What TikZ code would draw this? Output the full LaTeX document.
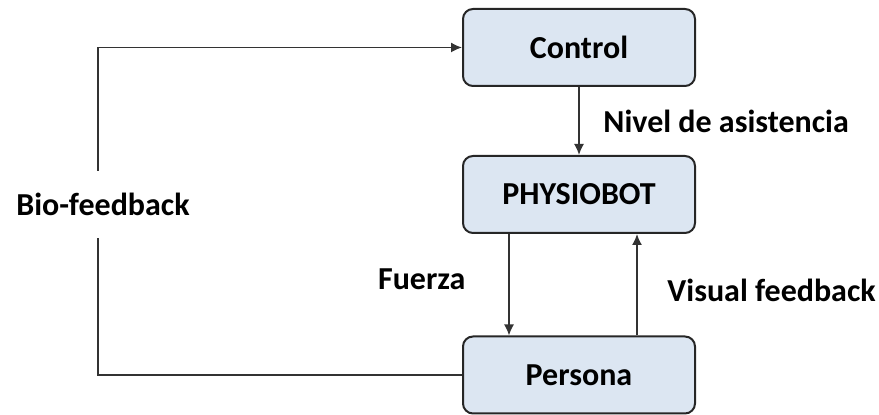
\documentclass[tikz,border=0pt]{standalone}
\usepackage{fontspec}
\setmainfont{Carlito}
\usepackage{xcolor}
\usetikzlibrary{positioning}
\usetikzlibrary{shapes, arrows, arrows.meta}
\definecolor{boxblue}{HTML}{DCE6F2}
\tikzstyle{block} = [rectangle, draw=black!85, line width=1pt, fill=boxblue, 
text centered, rounded corners=5pt, minimum height=38.5pt, minimum width=116pt]
\tikzstyle{line} = [draw=black!80, line width=0.8pt, -{Latex[length=5.5pt, width=5pt]}]

\begin{document}
\begin{tikzpicture}[node distance = 73.5pt, auto, font=\bfseries\fontsize{16}{19}\selectfont]
	\useasboundingbox (0,0) rectangle (439.5pt,-207.5pt);
	
	% Place nodes
	\node [block] (Control) at (289.5pt,-23.75pt) {Control};
	\node [block, below of=Control] 				(PHYSIOBOT) 	{PHYSIOBOT};
	\node [block, below of=PHYSIOBOT, yshift=-16.75pt] (Persona) 	{Persona};
	
	%Draw edges
	\path [line] (Control) -- node [xshift=8.5pt] {Nivel de asistencia} (PHYSIOBOT);
	\path [line] ([xshift=-35pt]PHYSIOBOT.south) -- node [swap, xshift=-18pt, yshift=3pt] {Fuerza} ([xshift=-35pt]Persona.north);
	\path [line] ([xshift=29pt]Persona.north) -- node [swap, xshift=11.5pt, yshift=-3pt] {Visual feedback} ([xshift=29pt]PHYSIOBOT.south);
	\path [line] (Persona.west) -- ++(-182pt,0) |- node [pos=0.26, anchor=center, xshift=2.5pt, fill=white, inner ysep=11pt] {Bio-feedback} (Control.west);
	
\end{tikzpicture}
\end{document}
